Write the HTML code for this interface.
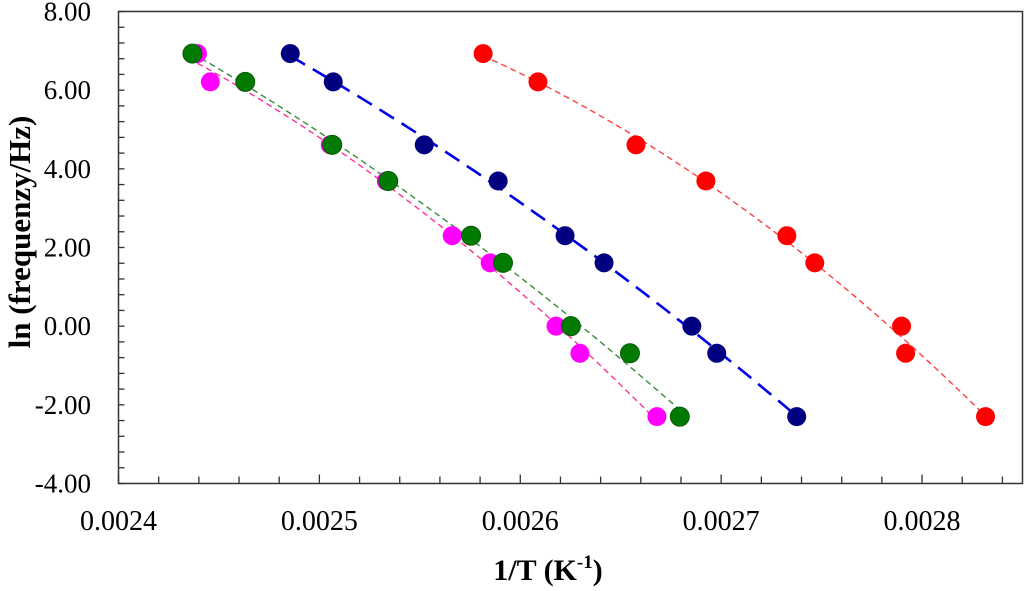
<!DOCTYPE html>
<html><head><meta charset="utf-8"><style>
body{margin:0;background:#fff}
svg{display:block;font-family:"Liberation Serif",serif}
</style></head><body>
<svg id="chart" width="1024" height="591" viewBox="0 0 1024 591">
<rect x="118.5" y="11.5" width="904" height="472" fill="none" stroke="#333" stroke-width="1.5"/>
<g id="ticks"></g><g id="fits"></g><g id="pts"></g>
<text transform="translate(30,232) rotate(-90)" text-anchor="middle" font-size="31" font-weight="bold">ln (frequenzy/Hz)</text>
<text x="548" y="580" text-anchor="middle" font-size="30" font-weight="bold">1/T (K<tspan font-size="19" dy="-12">-1</tspan><tspan dy="12">)</tspan></text>
</svg>
<script>
const yVals=[6.93,6.21,4.61,3.69,2.30,1.61,0,-0.69,-2.30];
const redX=[0.0025815,0.0026088,0.0026576,0.0026924,0.0027327,0.0027466,0.0027898,0.0027918,0.0028316];
const navyX=[0.0024855,0.0025069,0.0025522,0.0025890,0.0026223,0.0026417,0.0026854,0.0026978,0.0027376];
const magentaX=[0.0024393,0.0024457,0.0025054,0.0025333,0.0025661,0.0025850,0.0026178,0.0026297,0.0026680];
const greenX=[0.0024368,0.0024631,0.0025064,0.0025343,0.0025755,0.0025914,0.0026252,0.0026546,0.0026794];
const xTicks=["0.0024","0.0025","0.0026","0.0027","0.0028"];
const yTicks=["-4.00","-2.00","0.00","2.00","4.00","6.00","8.00"];
const X0=0.0024,X1=0.00285,Y0=-4,Y1=8,L=118.5,R=1022.5,T=11.5,B=483.5;
const sx=v=>L+(v-X0)/(X1-X0)*(R-L), sy=v=>B-(v-Y0)/(Y1-Y0)*(B-T);
const NS="http://www.w3.org/2000/svg";
function mk(tag,at,parent){const e=document.createElementNS(NS,tag);for(const k in at)e.setAttribute(k,at[k]);parent.appendChild(e);return e;}
const tg=document.getElementById('ticks');
for(let i=0;i<=22;i++){const v=X0+i*0.00002;if(v>X1+1e-9)break;const x=sx(v);const major=i%5==0;
 const t=mk('line',{x1:x,x2:x,y1:B,y2:B-(major?9:7),stroke:'#333','stroke-width':1.3},tg);
 
 }
xTicks.forEach(s=>{const t=mk('text',{x:sx(+s),y:530,'text-anchor':'middle','font-size':28},tg);t.textContent=s;
 
 });
for(let v=Y0;v<=Y1+1e-9;v+=0.4){const y=sy(v);
 const t=mk('line',{x1:L,x2:L+6,y1:y,y2:y,stroke:'#333','stroke-width':1.3},tg);
 
 }
yTicks.forEach(s=>{const t=mk('text',{x:91,y:sy(+s)+9,'text-anchor':'end','font-size':27},tg);t.textContent=s;
 
 });
function quadFit(xs,ys){let n=xs.length,m=xs.reduce((a,b)=>a+b)/n;const u=xs.map(x=>(x-m)*1e4);
 let S=[0,0,0,0,0],Ty=[0,0,0];u.forEach((t,i)=>{for(let k=0;k<5;k++)S[k]+=t**k;for(let k=0;k<3;k++)Ty[k]+=t**k*ys[i];});
 const A=[[S[0],S[1],S[2],Ty[0]],[S[1],S[2],S[3],Ty[1]],[S[2],S[3],S[4],Ty[2]]];
 for(let i=0;i<3;i++){for(let j=i+1;j<3;j++){const f=A[j][i]/A[i][i];for(let k=i;k<4;k++)A[j][k]-=f*A[i][k];}}
 const c=[0,0,0];for(let i=2;i>=0;i--){let s=A[i][3];for(let k=i+1;k<3;k++)s-=A[i][k]*c[k];c[i]=s/A[i][i];}
 return x=>{const t=(x-m)*1e4;return c[0]+c[1]*t+c[2]*t*t;};}
const series=[
 {n:'magenta',xs:magentaX,fill:'#ff00ff',stroke:'none',lc:'#ff3399',lw:1.4,da:'6,4'},
 {n:'green',xs:greenX,fill:'#007a00',stroke:'#0a5a0a',lc:'#3a8a3a',lw:1.4,da:'6,4'},
 {n:'navy',xs:navyX,fill:'#000080',stroke:'none',lc:'#0000e6',lw:2.6,da:'17,9'},
 {n:'red',xs:redX,fill:'#ff0000',stroke:'none',lc:'#ff4040',lw:1.4,da:'6,4'}];
const fg=document.getElementById('fits'),pg=document.getElementById('pts');
series.forEach(s=>{const f=quadFit(s.xs,yVals);const a=Math.min(...s.xs),b=Math.max(...s.xs);let d='';
 for(let i=0;i<=60;i++){const x=a+(b-a)*i/60;d+=(i?'L':'M')+sx(x).toFixed(1)+','+sy(f(x)).toFixed(1);}
 const p=mk('path',{d:d,fill:'none',stroke:s.lc,'stroke-width':s.lw,'stroke-dasharray':s.da},fg);
 
 });
series.forEach(s=>{s.xs.forEach((x,i)=>{const c=mk('circle',{cx:sx(x),cy:sy(yVals[i]),r:9.5,fill:s.fill,stroke:s.stroke,'stroke-width':1},pg);
 
 });});
</script>
</body></html>
